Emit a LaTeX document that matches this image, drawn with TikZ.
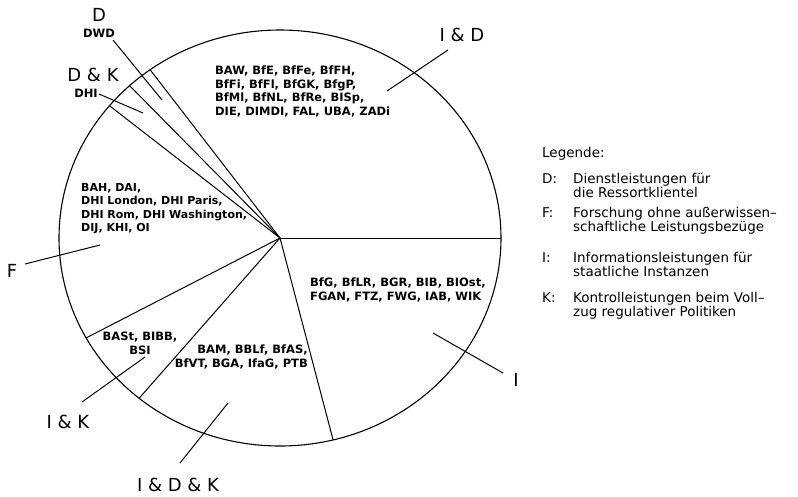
\documentclass[tikz,border=0pt]{standalone}
\usepackage{fontspec}
\setmainfont{DejaVu Sans}
\usetikzlibrary{calc}
\tikzset{
  rim/.style={line width=1.1pt},
  cut/.style={line width=1pt},
  lead/.style={line width=1pt},
  share/.style={font=\bfseries\fontsize{11.5}{13.5}\selectfont, inner sep=0pt},
  combo/.style={font=\fontsize{18}{20}\selectfont, inner sep=0pt},
  legend/.style={font=\fontsize{13.5}{14.5}\selectfont, inner sep=0pt, anchor=base west}
}
\begin{document}
\begin{tikzpicture}[x=1pt,y=-1pt]
  \useasboundingbox (0,0) rectangle (798,496);

  % pie
  \coordinate (M) at (280,238);
  \draw[rim] (M) ellipse [x radius=221pt, y radius=208pt];
  \foreach \a/\n in {0/ID-I, 76.1/I-IDK, 129.6/IDK-IK, 151.3/IK-F,
                     -140.5/F-DK, -132.9/DK-D, -126/D-ID}
    \coordinate (\n) at ($(M)+(\a:221 and 208)$);
  \foreach \n in {ID-I, I-IDK, IDK-IK, IK-F, F-DK, DK-D, D-ID}
    \draw[cut] (M) -- (\n);

  % institutes in each share
  \node[share, anchor=north west, align=left] (sID) at (215,66)
    {BAW, BfE, BfFe, BfFH,\\BfFi, BfFl, BfGK, BfgP,\\BfMl, BfNL, BfRe, BISp,\\DIE, DIMDI, FAL, UBA, ZADi};
  \node[share, anchor=north west, align=left, font=\bfseries\fontsize{11}{13.5}\selectfont] (sF) at (81,183)
    {BAH, DAI,\\DHI London, DHI Paris,\\DHI Rom, DHI Washington,\\DIJ, KHI, OI};
  \node[share, anchor=north west, align=left] (sI) at (310,278)
    {BfG, BfLR, BGR, BIB, BIOst,\\FGAN, FTZ, FWG, IAB, WIK};
  \node[share, anchor=north, align=center] (sIK) at (140,332)
    {BASt, BIBB,\\BSI};
  \node[share, anchor=north east, align=right] (sIDK) at (308,345)
    {BAM, BBLf, BfAS,\\BfVT, BGA, IfaG, PTB};

  % share names and leaders
  \node[combo] (lID) at (462,35) {I \& D};
  \node[combo] (lI) at (516,380) {I};
  \node[combo] (lF) at (12,271) {F};
  \node[combo] (lIK) at (68,422) {I \& K};
  \node[combo] (lIDK) at (178,485) {I \& D \& K};
  \node[combo] (lD) at (99,15) {D};
  \node[share] (sD) at (99,33) {DWD};
  \node[combo] (lDK) at (93,75) {D \& K};
  \node[share] (sDK) at (86,93) {DHI};

  \coordinate (aID) at (448,50);   \coordinate (bID) at (387,91);
  \coordinate (aI) at (503,373);   \coordinate (bI) at (433,333);
  \coordinate (aF) at (25,264);    \coordinate (bF) at (100,245);
  \coordinate (aIK) at (82,402);   \coordinate (bIK) at (145,357);
  \coordinate (aIDK) at (180,463); \coordinate (bIDK) at (228,403);
  \coordinate (aD) at (113,40);    \coordinate (bD) at (162,100);
  \coordinate (aDK) at (99,94);    \coordinate (bDK) at (143,113);
  \foreach \n in {ID, I, F, IK, IDK, D, DK}
    \draw[lead] (a\n) -- (b\n);

  % legend
  \node[legend] (leg) at (542,157) {Legende:};
  \foreach \k/\la/\lb/\y [count=\i] in {
      D:/Dienstleistungen für/die Ressortklientel/183,
      F:/Forschung ohne außerwissen–/schaftliche Leistungsbezüge/217,
      I:/Informationsleistungen für/staatliche Instanzen/262,
      K:/Kontrolleistungen beim Voll–/zug regulativer Politiken/302}
  {
    \node[legend] (key\i) at (542,\y) {\k};
    \node[legend] (row\i) at (573,\y) {\la};
    \node[legend] (wrap\i) at (573,\y+14.5) {\lb};
  }
\end{tikzpicture}
\end{document}
